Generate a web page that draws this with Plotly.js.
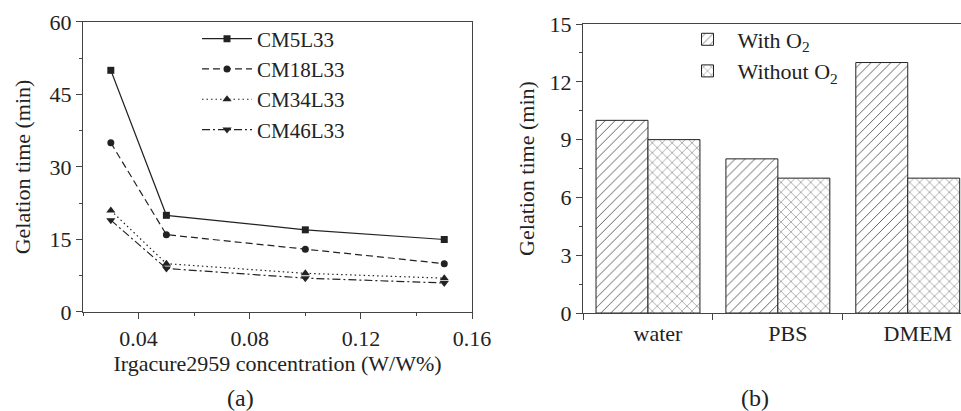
<!DOCTYPE html>
<html>
<head>
<meta charset="utf-8">
<script src="https://cdn.plot.ly/plotly-3.0.1.min.js"></script>
<style>
html,body{margin:0;padding:0;background:#fff;overflow:hidden;}
#chart{width:961px;height:411px;}
</style>
</head>
<body>
<div id="chart"></div>
<script>
// ---- Panel (a) data ----
const concentration = [0.03, 0.05, 0.10, 0.15];
const seriesNames = ["CM5L33", "CM18L33", "CM34L33", "CM46L33"];
const cm5l33 = [50, 20, 17, 15];
const cm18l33 = [35, 16, 13, 10];
const cm34l33 = [21, 10, 8, 7];
const cm46l33 = [19, 9, 7, 6];

// ---- Panel (b) data ----
const media = ["water", "PBS", "DMEM"];
const withO2 = [10, 8, 13];
const withoutO2 = [9, 7, 7];
const barNames = ["With O<sub>2</sub>", "Without O<sub>2</sub>"];

const ink = "#222";
const fontFam = "'Liberation Serif', 'Times New Roman', serif";

const lineStyles = [
  {dash: "solid", symbol: "square", size: 7},
  {dash: "7px,4px", symbol: "circle", size: 7},
  {dash: "1.5px,3px", symbol: "triangle-up", size: 8},
  {dash: "8px,3px,2px,3px", symbol: "triangle-down", size: 8}
];
const lineData = [cm5l33, cm18l33, cm34l33, cm46l33];

const traces = lineData.map((ys, i) => ({
  type: "scatter",
  mode: "lines+markers",
  x: concentration,
  y: ys,
  name: seriesNames[i],
  xaxis: "x",
  yaxis: "y",
  legend: "legend",
  line: {color: ink, width: 1.2, dash: lineStyles[i].dash},
  marker: {color: ink, symbol: lineStyles[i].symbol, size: lineStyles[i].size}
}));

traces.push({
  type: "bar",
  x: media,
  y: withO2,
  name: barNames[0],
  xaxis: "x2",
  yaxis: "y2",
  legend: "legend2",
  marker: {
    color: "#fff",
    line: {color: ink, width: 1},
    pattern: {shape: "/", fgcolor: "#444", bgcolor: "#fff", size: 7, solidity: 0.12}
  }
});
traces.push({
  type: "bar",
  x: media,
  y: withoutO2,
  name: barNames[1],
  xaxis: "x2",
  yaxis: "y2",
  legend: "legend2",
  marker: {
    color: "#fff",
    line: {color: ink, width: 1},
    pattern: {shape: "x", fgcolor: "#444", bgcolor: "#fff", size: 7, solidity: 0.12}
  }
});

const axisCommon = {
  showline: true,
  linecolor: "#444",
  linewidth: 1.2,
  showgrid: false,
  zeroline: false,
  ticks: "outside",
  ticklen: 6,
  tickcolor: "#444",
  tickfont: {family: fontFam, size: 22, color: ink}
};

const layout = {
  width: 961,
  height: 411,
  margin: {l: 0, r: 0, t: 0, b: 0},
  paper_bgcolor: "#fff",
  plot_bgcolor: "#fff",
  font: {family: fontFam, color: ink, size: 22},
  barmode: "group",
  bargap: 0.2,
  bargroupgap: 0,
  xaxis: Object.assign({}, axisCommon, {
    domain: [0.0864, 0.4912],
    anchor: "y",
    range: [0.02, 0.16],
    tickvals: [0.04, 0.08, 0.12, 0.16],
    ticktext: ["0.04", "0.08", "0.12", "0.16"],
    mirror: true,
    minor: {tickvals: [0.02, 0.06, 0.10, 0.14], ticks: "outside", ticklen: 3, tickcolor: "#444"},
    title: {text: "Irgacure2959 concentration (W/W%)", font: {family: fontFam, size: 22, color: ink}, standoff: 4}
  }),
  yaxis: Object.assign({}, axisCommon, {
    domain: [0.2409, 0.9465],
    anchor: "x",
    range: [0, 60],
    tickvals: [0, 15, 30, 45, 60],
    mirror: true,
    minor: {tickvals: [7.5, 22.5, 37.5, 52.5], ticks: "outside", ticklen: 3, tickcolor: "#444"},
    title: {text: "Gelation time (min)", font: {family: fontFam, size: 22, color: ink}, standoff: 12}
  }),
  xaxis2: Object.assign({}, axisCommon, {
    domain: [0.6067, 1.0],
    anchor: "y2",
    type: "category",
    range: [-0.5, 2.41],
    tickson: "boundaries",
    mirror: true,
    ticklabelshift: 10
  }),
  yaxis2: Object.assign({}, axisCommon, {
    domain: [0.2384, 0.9416],
    anchor: "x2",
    range: [0, 15],
    tickvals: [0, 3, 6, 9, 12, 15],
    minor: {tickvals: [1.5, 4.5, 7.5, 10.5, 13.5], ticks: "outside", ticklen: 3, tickcolor: "#444"},
    title: {text: "Gelation time (min)", font: {family: fontFam, size: 22, color: ink}, standoff: 8}
  }),
  legend: {
    x: 0.205, y: 0.955, xanchor: "left", yanchor: "top",
    bgcolor: "rgba(0,0,0,0)",
    font: {family: fontFam, size: 21, color: ink},
    tracegroupgap: 0,
    itemwidth: 50
  },
  legend2: {
    x: 0.705, y: 0.955, xanchor: "left", yanchor: "top",
    bgcolor: "rgba(0,0,0,0)",
    font: {family: fontFam, size: 22, color: ink},
    itemwidth: 50
  },
  showlegend: true,
  annotations: [
    {text: "(a)", xref: "paper", yref: "paper", x: 0.25, y: 0.032, xanchor: "center", yanchor: "middle", showarrow: false, font: {family: fontFam, size: 24, color: ink}},
    {text: "(b)", xref: "paper", yref: "paper", x: 0.786, y: 0.032, xanchor: "center", yanchor: "middle", showarrow: false, font: {family: fontFam, size: 24, color: ink}}
  ]
};

Plotly.newPlot("chart", traces, layout, {displayModeBar: false, staticPlot: true});
</script>
</body>
</html>
